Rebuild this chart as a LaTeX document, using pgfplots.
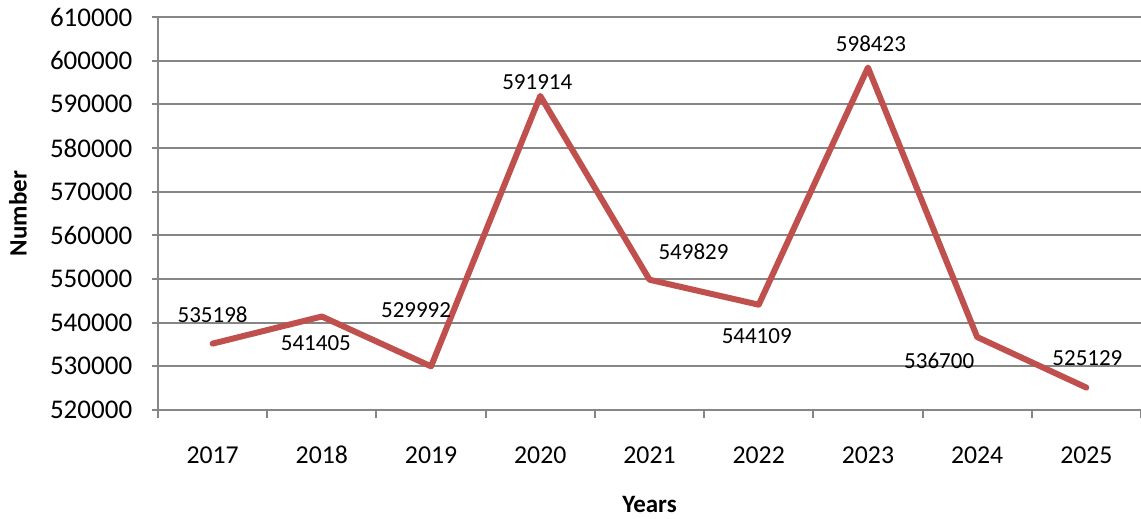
\documentclass[border=0pt]{standalone}
\usepackage{fontspec}
\setmainfont{Carlito}
\usepackage{pgfplots}
\usepackage{pgfplotstable}
\pgfplotsset{compat=1.18}

\definecolor{linered}{HTML}{C0504D}
\definecolor{gridgray}{HTML}{868686}

% x = category index (2017 = 0), dx/dy = label offset in pt
\pgfplotstableread{
x y      dx    dy
0 535198 0     11.6
1 541405 -2.4  -10.8
2 529992 -6    22.4
3 591914 -1.2  5.6
4 549829 17.6  11.2
5 544109 -0.8  -12.4
6 598423 1.2   9.6
7 536700 -15.2 -9.6
8 525129 0.4   11.6
}\datatable

\begin{document}
\begin{tikzpicture}
\begin{axis}[
    scale only axis,
    width=393.2pt, height=157.2pt,
    xmin=-0.5, xmax=8.5,
    ymin=520000, ymax=610000,
    ytick={520000,530000,...,610000},
    xtick={0,...,8},
    xticklabels={2017,2018,2019,2020,2021,2022,2023,2024,2025},
    minor xtick={-0.5,0.5,...,8.5},
    axis x line*=bottom,
    axis y line*=left,
    axis line style={gridgray, line width=0.8pt, -},
    ymajorgrids,
    major grid style={gridgray, line width=0.8pt},
    tick align=outside,
    major tick length=2.4pt,
    minor tick length=3.2pt,
    major x tick style={draw=none},
    tick style={gridgray, line width=0.8pt},
    scaled y ticks=false,
    yticklabel style={/pgf/number format/fixed, /pgf/number format/1000 sep={},
        font=\fontsize{10.8}{12}\selectfont, anchor=east, xshift=-4.4pt},
    xticklabel style={font=\fontsize{10.3}{12}\selectfont, text height=6.6pt,
        text depth=0pt, yshift=-9pt},
    /pgf/number format/assume math mode=true,
    ylabel={Number},
    xlabel={Years},
    every axis y label/.style={at={(axis description cs:-0.1424,0.5)}, rotate=90,
        anchor=center, font=\fontsize{10}{12}\selectfont\bfseries},
    every axis x label/.style={at={(axis description cs:0.5,-0.2417)},
        anchor=center, font=\fontsize{10}{12}\selectfont\bfseries},
    clip=false,
]
\addplot[linered, line width=2.4pt, line join=round, line cap=round,
    point meta=explicit symbolic,
    nodes near coords,
    visualization depends on={\thisrow{dx} \as \dx},
    visualization depends on={\thisrow{dy} \as \dy},
    every node near coord/.append style={black, anchor=center,
        font=\fontsize{9.2}{11}\selectfont, xshift=\dx pt, yshift=\dy pt},
] table[x=x, y=y, meta=y] {\datatable};
\end{axis}
\pgfresetboundingbox
\useasboundingbox ([shift={(-63.2pt,-43.6pt)}]current axis.south west)
    rectangle ([shift={(0pt,6.8pt)}]current axis.north east);
\end{tikzpicture}
\end{document}
